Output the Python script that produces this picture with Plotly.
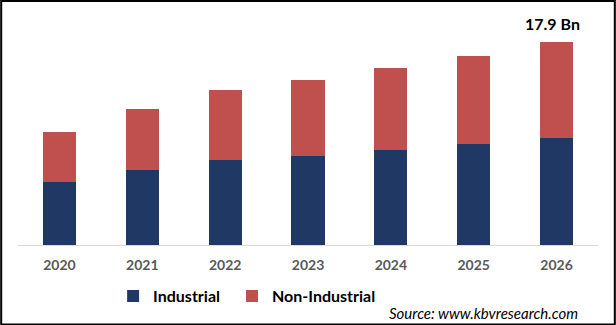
import plotly.graph_objects as go

# Market size by segment, USD billion
years = ["2020", "2021", "2022", "2023", "2024", "2025", "2026"]
industrial = [5.56, 6.61, 7.50, 7.85, 8.38, 8.91, 9.44]
non_industrial = [4.41, 5.38, 6.17, 6.70, 7.23, 7.76, 8.46]
total_label = "17.9 Bn"

NAVY = "#1f3864"
RED = "#c0504d"
FONT = "Lato"

fig = go.Figure()
fig.add_trace(go.Bar(x=years, y=industrial, name="<b>Industrial</b>", marker_color=NAVY,
                     marker_line_width=0, legend="legend"))
fig.add_trace(go.Bar(x=years, y=non_industrial, name="<b>Non-Industrial</b>", marker_color=RED,
                     marker_line_width=0, legend="legend2"))

# total label above the last bar (category index of the last year)
last_idx = len(years) - 1
last_total = industrial[-1] + non_industrial[-1]
fig.add_annotation(x=last_idx, y=last_total, text=f"<b>{total_label}</b>", showarrow=False,
                   yanchor="bottom", yshift=7, xshift=-4,
                   font=dict(family=FONT, size=16, color="#000000"))

fig.add_annotation(xref="paper", yref="paper", x=0.969, y=-0.302, xanchor="right",
                   yanchor="middle", showarrow=False,
                   text="<i>Source: www.kbvresearch.com</i>",
                   font=dict(family=FONT, size=15, color="#000000"))

# outer frame
fig.add_shape(type="rect", xref="paper", yref="paper", x0=-0.029, x1=1.029, y0=-0.353, y1=1.084,
              line=dict(color="#000000", width=2), fillcolor="rgba(0,0,0,0)")

legend_style = dict(orientation="h", xanchor="left", y=-0.227, yanchor="middle",
                    font=dict(family=FONT, size=16, color="#000000"), itemclick=False)

fig.update_layout(
    width=616, height=325,
    margin=dict(l=18, r=18, t=20, b=80),
    barmode="stack", bargap=0.6,
    plot_bgcolor="white", paper_bgcolor="white",
    font=dict(family=FONT),
    showlegend=True,
    legend=dict(x=0.164, **legend_style),
    legend2=dict(x=0.369, **legend_style),
    xaxis=dict(type="category", range=[-0.5, len(years) - 0.5], showline=True,
               linecolor="#d9d9d9", linewidth=1,
               ticks="outside", ticklen=7, tickcolor="white",
               tickfont=dict(family=FONT, size=14, color="#595959", weight="bold"),
               showgrid=False, fixedrange=True),
    yaxis=dict(range=[0, 19.84], visible=False, showgrid=False, fixedrange=True),
)

fig.write_html("out.html")
